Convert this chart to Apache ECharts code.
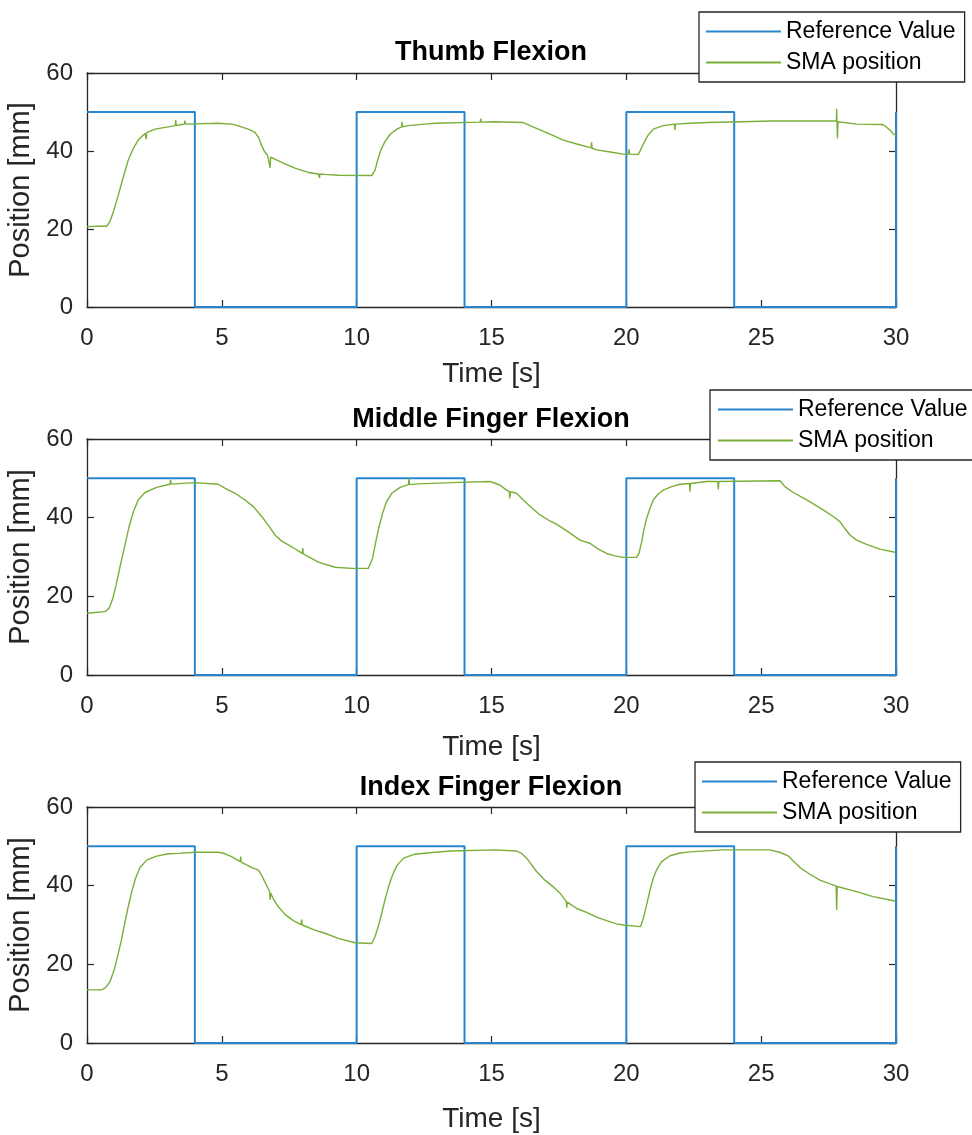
<!DOCTYPE html>
<html><head><meta charset="utf-8">
<script src="https://cdn.jsdelivr.net/npm/echarts@6/dist/echarts.min.js"></script>
<style>html,body{margin:0;padding:0;background:#fff}#c{width:972px;height:1135px}</style>
</head><body><div id="c"></div>
<script>
// ---------- data ----------
const titles = ['Thumb Flexion', 'Middle Finger Flexion', 'Index Finger Flexion'];
const seriesNames = ['Reference Value', 'SMA position'];

const refT = [0, 4, 4, 10, 10, 14, 14, 20, 20, 24, 24, 30, 30];
const refV = [50, 50, 0, 0, 50, 50, 0, 0, 50, 50, 0, 0, 50];

// SMA position [time s, position mm]
const thumbData = [
  [0, 20.6], [0.4, 20.7], [0.73, 20.7], [0.85, 21.9], [0.98, 24.4], [1.16, 28.7], [1.35, 33.4], [1.53, 37.7],
  [1.72, 40.7], [1.90, 42.8], [2.15, 44.5], [2.19, 44.6], [2.2, 43.0], [2.21, 44.7], [2.52, 45.6], [3.02, 46.2],
  [3.27, 46.5], [3.29, 47.9], [3.31, 46.5], [3.51, 46.8], [3.61, 46.9], [3.63, 47.8], [3.65, 46.9], [4.87, 47.1],
  [5.36, 46.9], [5.49, 46.7], [5.98, 45.6], [6.23, 44.8], [6.37, 43.4], [6.47, 41.5], [6.57, 40.0], [6.70, 38.8],
  [6.77, 38.5], [6.79, 35.7], [6.81, 38.4], [6.97, 37.9], [7.34, 36.7], [7.71, 35.6], [8.21, 34.5], [8.58, 34.1],
  [8.62, 33.1], [8.64, 34.1], [8.82, 34.0], [9.32, 33.8], [10.56, 33.7], [10.59, 34.0], [10.68, 35.1], [10.78, 37.7],
  [10.90, 40.3], [11.05, 42.4], [11.24, 44.3], [11.49, 45.6], [11.67, 46.2], [11.68, 47.5], [11.70, 46.2], [11.91, 46.5],
  [12.53, 46.9], [12.90, 47.1], [14.58, 47.4], [14.60, 48.3], [14.62, 47.4], [15.13, 47.5], [16.18, 47.3], [16.43, 46.5],
  [16.80, 45.4], [17.17, 44.3], [17.66, 42.8], [18.16, 41.8], [18.69, 40.8], [18.71, 42.2], [18.73, 40.7], [18.90, 40.3],
  [19.52, 39.6], [19.89, 39.2], [20.08, 39.2], [20.10, 40.5], [20.12, 39.2], [20.44, 39.1], [20.53, 40.3], [20.65, 42.1],
  [20.81, 44.1], [21.0, 45.6], [21.37, 46.5], [21.78, 46.9], [21.80, 45.4], [21.82, 46.9], [22.36, 47.1], [22.98, 47.3],
  [25.45, 47.7], [27.67, 47.7], [27.79, 47.7], [27.80, 50.8], [27.81, 47.7], [27.83, 43.2], [27.85, 47.5], [28.54, 46.9],
  [29.47, 46.8], [29.59, 46.5], [29.77, 45.4], [29.89, 44.5], [30, 43.9]
];
const middleData = [
  [0, 15.7], [0.67, 16.1], [0.82, 17.0], [0.96, 19.5], [1.08, 22.9], [1.24, 28.0], [1.41, 33.1], [1.56, 37.7],
  [1.72, 41.5], [1.90, 44.5], [2.15, 46.4], [2.58, 47.7], [3.08, 48.5], [3.10, 49.6], [3.12, 48.6], [3.26, 48.6],
  [4.0, 48.9], [4.87, 48.5], [5.11, 47.5], [5.49, 46.2], [5.86, 44.5], [6.17, 42.8], [6.48, 40.3], [6.72, 38.1],
  [6.97, 35.6], [7.21, 34.1], [7.59, 32.6], [7.98, 30.9], [8.0, 32.3], [8.02, 30.8], [8.58, 28.7], [9.20, 27.4],
  [9.81, 27.1], [10.43, 27.1], [10.49, 27.5], [10.59, 29.7], [10.71, 33.9], [10.83, 37.7], [10.96, 41.1], [11.11, 44.1],
  [11.30, 46.2], [11.61, 47.7], [11.92, 48.4], [11.94, 50.0], [11.96, 48.4], [12.29, 48.6], [13.52, 48.9], [14.94, 49.2],
  [15.31, 48.3], [15.56, 47.0], [15.66, 46.6], [15.68, 44.9], [15.70, 46.6], [15.93, 46.2], [16.18, 44.5], [16.49, 42.5],
  [16.80, 40.7], [17.11, 39.4], [17.42, 38.3], [17.85, 36.4], [18.28, 34.3], [18.65, 33.5], [18.96, 32.0], [19.27, 30.9],
  [19.58, 30.3], [19.89, 29.9], [20.38, 29.9], [20.47, 30.9], [20.57, 33.9], [20.65, 36.9], [20.75, 39.8], [20.88, 42.4],
  [21.0, 44.5], [21.18, 46.0], [21.37, 47.0], [21.68, 47.9], [21.99, 48.5], [22.34, 48.7], [22.36, 46.6], [22.38, 48.7],
  [22.98, 49.2], [23.39, 49.2], [23.41, 47.2], [23.43, 49.2], [25.70, 49.4], [25.88, 47.9], [26.19, 46.4], [26.69, 44.5],
  [27.30, 42.0], [27.67, 40.3], [27.92, 39.0], [28.10, 37.3], [28.29, 35.6], [28.54, 34.3], [28.91, 33.2], [29.40, 32.0],
  [29.96, 31.2]
];
const indexData = [
  [0, 13.5], [0.54, 13.5], [0.69, 14.1], [0.85, 15.6], [1.01, 18.6], [1.16, 22.8], [1.29, 26.6], [1.41, 30.8],
  [1.53, 34.7], [1.66, 38.5], [1.80, 41.9], [1.97, 44.6], [2.21, 46.5], [2.58, 47.5], [3.02, 48.1], [3.38, 48.2],
  [4.0, 48.5], [4.87, 48.5], [5.12, 48.1], [5.36, 47.4], [5.68, 46.1], [5.70, 47.4], [5.72, 46.0], [6.11, 44.6],
  [6.35, 44.0], [6.47, 42.7], [6.60, 40.9], [6.72, 39.2], [6.77, 38.5], [6.79, 36.4], [6.81, 38.1], [6.91, 36.6],
  [7.09, 34.7], [7.34, 32.7], [7.65, 31.1], [7.94, 30.1], [7.96, 31.4], [7.98, 30.0], [8.45, 28.7], [8.82, 27.9],
  [9.32, 26.6], [9.94, 25.5], [10.56, 25.3], [10.59, 25.6], [10.68, 27.0], [10.80, 29.6], [10.93, 33.0], [11.05, 36.4],
  [11.18, 39.7], [11.33, 42.7], [11.49, 45.1], [11.74, 47.0], [12.16, 48.0], [12.90, 48.5], [13.52, 48.8], [15.13, 49.1],
  [15.93, 48.8], [16.12, 48.2], [16.30, 47.0], [16.49, 45.3], [16.67, 43.6], [16.98, 41.4], [17.29, 39.7], [17.54, 38.1],
  [17.77, 36.0], [17.79, 34.4], [17.81, 35.8], [18.16, 34.2], [18.53, 33.2], [18.90, 32.0], [19.27, 31.1], [19.64, 30.3],
  [19.89, 30.0], [20.53, 29.6], [20.63, 31.7], [20.75, 35.1], [20.88, 38.9], [21.0, 41.9], [21.12, 44.0], [21.31, 46.1],
  [21.62, 47.6], [21.99, 48.3], [22.36, 48.6], [23.59, 49.1], [25.32, 49.1], [25.69, 48.5], [26.0, 47.6], [26.19, 46.3],
  [26.44, 44.6], [26.81, 42.9], [27.18, 41.4], [27.78, 39.9], [27.80, 33.8], [27.82, 39.8], [28.54, 38.5], [29.15, 37.2],
  [29.96, 36.1]
];
const smaData = [thumbData, middleData, indexData];

// ---------- layout / style ----------
const FONT = '"Liberation Sans", Arial, Helvetica, sans-serif';
const AX = '#262626';
const BLUE = '#2a86cc';
const GREEN = '#7aae38';
const panels = [
  { top: 73, height: 234, titleY: 53, nameGap: 53, legendLeft: 699, legendTop: 12, padL: 7 },
  { top: 439, height: 236, titleY: 420, nameGap: 58, legendLeft: 710, legendTop: 390, padL: 8 },
  { top: 807, height: 236, titleY: 788, nameGap: 62, legendLeft: 695, legendTop: 762, padL: 7 }
];
const GRID_LEFT = 87, GRID_W = 809;

const zip = (a, b) => a.map((v, i) => [v, b[i]]);

const grid = [], xAxis = [], yAxis = [], series = [], legend = [], graphic = [];
const tickStyle = { show: true, inside: true, length: 7, lineStyle: { color: AX, width: 1.2 } };
const lineStyleAx = { show: true, onZero: false, lineStyle: { color: AX, width: 1.3 } };

panels.forEach((p, i) => {
  grid.push({ left: GRID_LEFT, top: p.top, width: GRID_W, height: p.height, containLabel: false, outerBoundsMode: 'none' });
  xAxis.push({
    type: 'value', gridIndex: i, min: 0, max: 30, interval: 5, position: 'bottom',
    axisLine: lineStyleAx, axisTick: tickStyle, splitLine: { show: false },
    axisLabel: { show: true, margin: 19, fontSize: 24, color: AX, fontFamily: FONT },
    name: 'Time [s]', nameLocation: 'middle', nameGap: p.nameGap,
    nameTextStyle: { fontSize: 28, color: AX, fontFamily: FONT }
  });
  xAxis.push({
    type: 'value', gridIndex: i, min: 0, max: 30, interval: 5, position: 'top',
    axisLine: lineStyleAx, axisTick: tickStyle, splitLine: { show: false }, axisLabel: { show: false }
  });
  yAxis.push({
    type: 'value', gridIndex: i, min: 0, max: 60, interval: 20, position: 'left',
    axisLine: lineStyleAx, axisTick: tickStyle, splitLine: { show: false },
    axisLabel: { show: true, margin: 14, fontSize: 24, color: AX, fontFamily: FONT },
    name: 'Position [mm]', nameLocation: 'middle', nameGap: 45, nameRotate: 90,
    nameTextStyle: { fontSize: 29, color: AX, fontFamily: FONT }
  });
  yAxis.push({
    type: 'value', gridIndex: i, min: 0, max: 60, interval: 20, position: 'right',
    axisLine: lineStyleAx, axisTick: tickStyle, splitLine: { show: false }, axisLabel: { show: false }
  });
  series.push({
    name: seriesNames[0], type: 'line', xAxisIndex: 2 * i, yAxisIndex: 2 * i,
    data: zip(refT, refV), showSymbol: false, symbol: 'none', clip: false,
    color: BLUE, lineStyle: { color: BLUE, width: 2 }, z: 3
  });
  series.push({
    name: seriesNames[1], type: 'line', xAxisIndex: 2 * i, yAxisIndex: 2 * i,
    data: smaData[i], showSymbol: false, symbol: 'none', clip: false,
    color: GREEN, lineStyle: { color: GREEN, width: 1.4 }, z: 4
  });
  legend.push({
    data: seriesNames, orient: 'vertical', left: p.legendLeft, top: p.legendTop,
    icon: 'rect', itemWidth: 75, itemHeight: 2, itemGap: 8,
    padding: [8, 9, 8, p.padL], borderColor: AX, borderWidth: 1.3, backgroundColor: '#fff',
    textStyle: { fontSize: 23, color: '#000', fontFamily: FONT }, selectedMode: false, z: 10
  });
  graphic.push({
    type: 'text', x: 491, y: p.titleY, z: 10,
    style: { text: titles[i], fontSize: 27, fontWeight: 'bold', fontFamily: FONT, fill: '#000', align: 'center', verticalAlign: 'middle' }
  });
});

const chart = echarts.init(document.getElementById('c'), null, { renderer: 'canvas' });
chart.setOption({
  animation: false,
  backgroundColor: '#fff',
  grid, xAxis, yAxis, series, legend, graphic
});
</script>
</body></html>
